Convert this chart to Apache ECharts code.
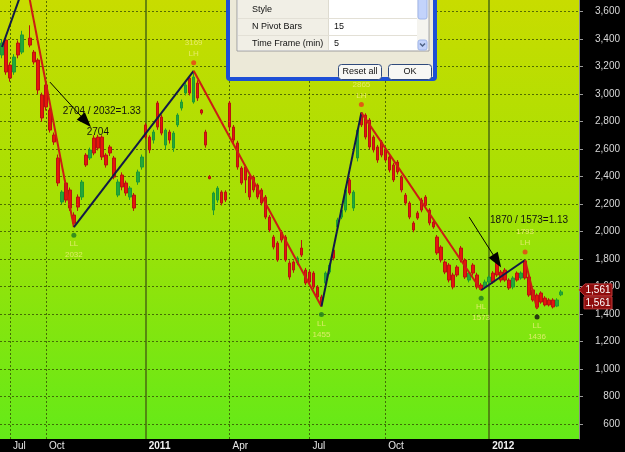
<!DOCTYPE html>
<html lang="en">
<head>
<meta charset="UTF-8">
<title>ZigZag pivots</title>
<script src="https://cdn.jsdelivr.net/npm/echarts@6/dist/echarts.min.js"></script>
<style>
html,body{margin:0;padding:0;background:#000}
#chartBox{width:625px;height:452px}
</style>
</head>
<body>
<div id="chartBox"></div>
<script>
// daily bars, one slot each: [open, close, low, high]
const candles = [
  [3284,3371,3260,3400],[3393,3160,3140,3410],[3211,3116,3090,3230],[3160,3269,3140,3290],
  [3371,3284,3260,3390],[3305,3430,3290,3460],'-',[3407,3356,3340,3500],
  [3305,3233,3215,3320],[3247,3029,3000,3260],[2993,2826,2800,3010],[3066,2906,2880,3080],
  [2884,2738,2720,2900],[2702,2651,2630,2720],[2535,2353,2330,2560],[2215,2287,2200,2300],
  [2353,2229,2210,2370],[2302,2171,2150,2320],[2120,2060,2032,2140],[2251,2178,2150,2270],
  [2251,2360,2230,2375],[2556,2484,2470,2570],[2535,2593,2520,2610],[2680,2571,2555,2700],
  [2687,2607,2590,2704],[2687,2542,2520,2700],[2556,2484,2465,2570],[2615,2571,2550,2630],
  [2535,2396,2380,2550],[2265,2360,2250,2380],[2411,2324,2300,2430],[2353,2280,2260,2370],
  [2251,2316,2230,2330],[2265,2171,2150,2280],[2360,2433,2340,2450],[2469,2542,2450,2560],
  [2775,2687,2670,2790],[2687,2593,2570,2700],[2665,2724,2640,2740],[2935,2760,2740,2950],
  [2833,2716,2700,2850],[2629,2738,2600,2750],[2724,2665,2640,2740],[2607,2716,2580,2730],
  [2775,2847,2760,2860],[2898,2942,2880,2960],[3007,3066,2990,3080],[3116,3007,2990,3130],
  [2942,3124,2930,3169],[3080,2971,2950,3100],[2884,2862,2850,2890],[2724,2629,2610,2740],
  [2400,2385,2380,2410],[2156,2280,2120,2290],[2229,2316,2210,2330],[2287,2207,2190,2300],
  [2287,2229,2215,2300],[2935,2760,2740,2950],[2760,2665,2645,2775],[2644,2469,2450,2660],
  [2462,2353,2340,2475],[2469,2375,2280,2485],[2396,2251,2230,2410],[2396,2302,2285,2410],
  [2338,2251,2235,2350],[2302,2207,2190,2315],[2251,2105,2090,2265],[2105,2011,1995,2120],
  [1960,1887,1870,1975],[1916,1793,1780,1930],[1996,1938,1920,2010],[1960,1793,1780,1975],
  [1771,1669,1650,1790],[1778,1720,1700,1790],[1771,1807,1755,1820],[1880,1829,1815,1938],
  [1720,1625,1610,1735],[1705,1633,1615,1720],[1698,1596,1580,1712],[1596,1524,1505,1610],
  [1524,1470,1455,1540],[1625,1698,1610,1710],[1705,1756,1690,1770],[1865,1807,1790,1880],
  [2033,2084,2020,2100],[2105,2156,2090,2170],[2156,2302,2140,2320],[2375,2280,2265,2390],
  [2171,2287,2150,2300],[2535,2738,2510,2750],[2862,2775,2760,2865],[2847,2687,2670,2860],
  [2811,2615,2600,2825],[2687,2593,2575,2700],[2615,2520,2500,2630],[2651,2556,2540,2665],
  [2593,2520,2505,2610],[2542,2447,2430,2555],[2484,2375,2360,2500],[2505,2433,2415,2520],
  [2396,2302,2285,2410],[2265,2207,2190,2280],[2207,2105,2090,2220],[2062,2011,1995,2075],
  [2135,2098,2085,2150],[2229,2156,2140,2245],[2251,2190,2170,2265],[2156,2062,2045,2170],
  [2069,2033,2020,2085],[1960,1844,1830,1975],[1887,1793,1775,1900],[1778,1705,1690,1790],
  [1756,1647,1630,1770],[1684,1596,1580,1700],[1742,1684,1670,1755],[1880,1793,1775,1895],
  [1793,1669,1655,1805],[1647,1698,1630,1710],[1756,1698,1680,1770],[1684,1596,1580,1700],
  [1611,1580,1573,1625],[1596,1633,1585,1650],[1633,1669,1620,1680],[1698,1633,1620,1712],
  [1771,1684,1670,1785],[1705,1647,1630,1720],[1720,1647,1635,1735],[1647,1589,1575,1660],
  [1596,1662,1580,1675],[1698,1647,1635,1710],[1662,1698,1650,1710],[1785,1662,1650,1793],
  [1669,1538,1525,1680],[1575,1502,1490,1590],[1538,1450,1436,1550],[1553,1487,1475,1565],
  [1516,1466,1455,1530],[1502,1466,1455,1515],[1502,1451,1440,1515],[1458,1502,1450,1515],
  [1540,1561,1530,1575],'-','-','-','-'
];
const slots = candles.map((c, i) => String(i));

// bottom axis labels (slot index of each month start)
const tickIdx = [2, 11, 36, 57, 77, 96, 122];
const tickText = ['Jul', 'Oct', '2011', 'Apr', 'Jul', 'Oct', '2012'];
const yTicks = [600, 800, 1000, 1200, 1400, 1600, 1800, 2000, 2200, 2400, 2600, 2800, 3000, 3200, 3400, 3600];

// zigzag pivots
const pivotIdx = [0, 6, 18, 48, 80, 90, 120, 131, 134];
const pivotVal = [3342, 3829, 2032, 3169, 1455, 2865, 1573, 1793, 1436];
const pivotTag = ['', '', 'LL', 'LH', 'LL', 'LH', 'HL', 'LH', 'LL'];

// annotations
const noteText = ['2704 / 2032=1.33', '2704', '1870 / 1573=1.13'];
const noteAt = [[25, 2876], [24, 2722], [132, 2079]];
const arrowFrom = [[12, 3087], [117, 2105]];
const arrowTo = [[21, 2800], [124, 1785]];
const lastPrice = 1561;

// dialog texts
const dlgRows = ['Style', 'N Pivot Bars', 'Time Frame (min)'];
const dlgVals = ['', '15', '5'];

const fontFam = '"Liberation Sans", Arial, sans-serif';

function zigzagSeries() {
    let out = [];
    for (let k = 0; k < pivotIdx.length - 1; k++) {
        let up = pivotVal[k + 1] > pivotVal[k];
        out.push({
            type: 'line', z: 4, symbol: 'none', silent: true,
            lineStyle: {width: 2, color: up ? '#121a48' : '#cc1c14'},
            data: [[pivotIdx[k], pivotVal[k]], [pivotIdx[k + 1], pivotVal[k + 1]]]
        });
    }
    return out;
}

function pivotPoints() {
    let pts = [];
    for (let k = 2; k < pivotIdx.length; k++) {
        let high = pivotTag[k].endsWith('H');
        let last = k === pivotIdx.length - 1;
        pts.push({
            value: [pivotIdx[k], pivotVal[k]],
            symbolOffset: [0, high ? -8 : 8],
            itemStyle: {color: high ? '#ec3a18' : (last ? '#111' : '#1d7a22')},
            label: {
                position: high ? 'top' : 'bottom',
                formatter: high ? pivotVal[k] + '\n' + pivotTag[k] : pivotTag[k] + '\n' + pivotVal[k]
            }
        });
    }
    return pts;
}

let chartObj = echarts.init(document.getElementById('chartBox'));
let option = {
    backgroundColor: '#000',
    animation: false,
    grid: {
        left: 0, right: 46, top: 0, bottom: 13,
        containLabel: false, outerBoundsMode: 'none',
        show: true, borderWidth: 0,
        backgroundColor: new echarts.graphic.LinearGradient(0, 0, 0, 1, [
            {offset: 0, color: '#c8dc00'},
            {offset: 0.45, color: '#a6e004'},
            {offset: 1, color: '#64ea18'}
        ])
    },
    xAxis: {
        type: 'category',
        data: slots,
        boundaryGap: true,
        axisLine: {show: false},
        axisTick: {
            alignWithLabel: true, length: 5,
            interval: (i) => tickIdx.includes(i),
            lineStyle: {color: '#cfcfcf'}
        },
        axisLabel: {
            interval: (i) => tickIdx.includes(i),
            formatter: function (v, i) {
                let t = tickText[tickIdx.indexOf(i)];
                return /^\d{4}$/.test(t) ? '{b|' + t + '}' : t;
            },
            align: 'left', margin: 2, padding: [0, 0, 0, 3],
            color: '#e6e6e6', fontSize: 10, fontFamily: fontFam,
            rich: {b: {fontWeight: 'bold', color: '#f2f2f2', fontSize: 10, fontFamily: fontFam}}
        },
        splitLine: {show: false}
    },
    yAxis: {
        type: 'value',
        position: 'right',
        min: 491, max: 3684,
        axisLine: {show: true, lineStyle: {color: '#8a8a8a'}},
        axisTick: {show: true, length: 4, customValues: yTicks, lineStyle: {color: '#9a9a9a'}},
        axisLabel: {
            customValues: yTicks,
            formatter: (v) => v.toLocaleString('en-US'),
            align: 'right', margin: 41,
            color: '#d8d8d8', fontSize: 10, fontFamily: fontFam
        },
        splitLine: {show: false}
    },
    series: [
        {
            // grid lines
            type: 'line', data: [], silent: true,
            markLine: {
                z: 1, silent: true, symbol: 'none', label: {show: false}, animation: false,
                lineStyle: {color: 'rgba(48,70,0,0.75)', type: [2, 2], width: 1},
                data: yTicks.map(v => ({yAxis: v})).concat(tickIdx.map((i, k) => {
                    let yr = /^\d{4}$/.test(tickText[k]);
                    return {xAxis: i, lineStyle: yr ? {type: 'solid', color: '#4a6a10', width: 1.5} : {}};
                }))
            }
        },
        {
            type: 'candlestick',
            z: 3,
            barWidth: 3,
            data: candles,
            itemStyle: {
                color: '#23a83a', color0: '#e6150c',
                borderColor: '#1d9a33', borderColor0: '#b81210', borderWidth: 1
            }
        }
    ].concat(zigzagSeries()).concat([
        {
            type: 'scatter', z: 6, symbolSize: 5, silent: true,
            data: pivotPoints(),
            label: {show: true, distance: 1, color: '#f0ee80', fontSize: 8, lineHeight: 11, fontFamily: fontFam}
        },
        {
            // notes and arrows
            type: 'line', data: [], silent: true,
            itemStyle: {color: '#000'},
            markLine: {
                z: 7, silent: true, animation: false,
                symbol: ['none', 'triangle'], symbolSize: 11,
                label: {show: false},
                itemStyle: {color: '#000'},
                lineStyle: {color: '#000', type: 'solid', width: 1},
                data: arrowFrom.map((p, k) => [
                    {coord: p, symbol: 'none'},
                    {coord: arrowTo[k], symbol: 'triangle', symbolSize: [11, 15], itemStyle: {color: '#000'}}
                ])
            },
            markPoint: {
                z: 7, silent: true, animation: false,
                symbol: 'circle', symbolSize: 0,
                label: {show: true, position: 'inside', color: '#111', fontSize: 10, fontFamily: fontFam,
                        formatter: (p) => p.name},
                data: noteAt.map((p, k) => ({coord: p, name: noteText[k]}))
            }
        }
    ])
};
chartObj.setOption(option);

// price tags on the right axis and the settings dialog on top
let py = chartObj.convertToPixel({yAxisIndex: 0}, lastPrice);
let priceLabel = lastPrice.toLocaleString('en-US');
let tagText = {fill: '#fff', fontSize: 10, fontFamily: fontFam, align: 'center', verticalAlign: 'middle'};
let gfx = [
    {type: 'polygon', z: 20, shape: {points: [[579, py - 2], [585, py - 8], [612, py - 8], [612, py + 4], [585, py + 4]]},
     style: {fill: '#8e0d0d', stroke: '#c23a3a', lineWidth: 1}},
    {type: 'text', z: 21, x: 598, y: py - 2, style: Object.assign({text: priceLabel}, tagText)},
    {type: 'rect', z: 20, shape: {x: 584, y: py + 5, width: 28, height: 12},
     style: {fill: '#8e0d0d', stroke: '#c23a3a', lineWidth: 1}},
    {type: 'text', z: 21, x: 598, y: py + 11, style: Object.assign({text: priceLabel}, tagText)},

    // dialog frame
    {type: 'rect', z: 30, shape: {x: 226, y: -10, width: 211, height: 91, r: [0, 0, 4, 4]}, style: {fill: '#1d4fd6'}},
    {type: 'rect', z: 31, shape: {x: 230, y: -10, width: 203, height: 87}, style: {fill: '#ece9d8'}},
    {type: 'rect', z: 32, shape: {x: 237, y: -2, width: 192, height: 53}, style: {fill: '#fff', stroke: '#9d9d9d', lineWidth: 1}},
    {type: 'rect', z: 33, shape: {x: 238, y: -1, width: 90, height: 51}, style: {fill: '#f1efe6'}},
    {type: 'line', z: 34, shape: {x1: 328.5, y1: -1, x2: 328.5, y2: 50}, style: {stroke: '#dedbd0'}},
    {type: 'line', z: 34, shape: {x1: 238, y1: 18.5, x2: 417, y2: 18.5}, style: {stroke: '#e3e0d6'}},
    {type: 'line', z: 34, shape: {x1: 238, y1: 35.5, x2: 417, y2: 35.5}, style: {stroke: '#e3e0d6'}},
    // scroll bar
    {type: 'rect', z: 34, shape: {x: 417, y: -1, width: 11, height: 51}, style: {fill: '#f5f4ef'}},
    {type: 'rect', z: 35, shape: {x: 418, y: -4, width: 9, height: 23, r: 2}, style: {fill: '#c3d3fb', stroke: '#9fb5ea'}},
    {type: 'rect', z: 35, shape: {x: 418, y: 40, width: 9, height: 10, r: 2}, style: {fill: '#c3d3fb', stroke: '#9fb5ea'}},
    {type: 'polyline', z: 36, shape: {points: [[420, 43.5], [422.5, 46], [425, 43.5]]}, style: {stroke: '#4d6185', lineWidth: 1.5, fill: 'none'}},
    // buttons
    {type: 'rect', z: 34, shape: {x: 338.5, y: 64.5, width: 43, height: 15, r: 3}, style: {fill: '#f7f7f4', stroke: '#2f4a7c'}},
    {type: 'text', z: 35, x: 360, y: 72, style: {text: 'Reset all', fill: '#111', fontSize: 9, fontFamily: fontFam, align: 'center', verticalAlign: 'middle'}},
    {type: 'rect', z: 34, shape: {x: 388.5, y: 64.5, width: 43, height: 15, r: 3}, style: {fill: '#f7f7f4', stroke: '#2f4a7c'}},
    {type: 'text', z: 35, x: 410, y: 72, style: {text: 'OK', fill: '#111', fontSize: 9, fontFamily: fontFam, align: 'center', verticalAlign: 'middle'}}
];
dlgRows.forEach(function (name, k) {
    let ty = 10 + k * 17;
    gfx.push({type: 'text', z: 36, x: 252, y: ty, style: {text: name, fill: '#111', fontSize: 9, fontFamily: fontFam, verticalAlign: 'middle'}});
    gfx.push({type: 'text', z: 36, x: 334, y: ty, style: {text: dlgVals[k], fill: '#111', fontSize: 9, fontFamily: fontFam, verticalAlign: 'middle'}});
});
chartObj.setOption({graphic: gfx});
</script>
</body>
</html>
